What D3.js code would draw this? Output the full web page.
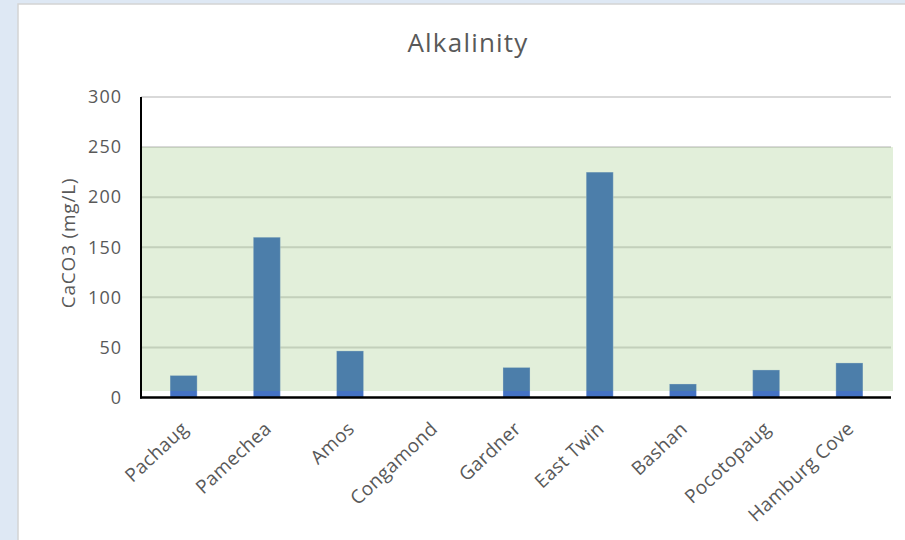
<!DOCTYPE html>
<html>
<head>
<meta charset="utf-8">
<script src="https://cdn.jsdelivr.net/npm/d3@7"></script>
<style>
  html, body { margin: 0; padding: 0; background: #dee8f4; }
  svg { display: block; }
</style>
</head>
<body>
<svg id="chart" width="905" height="540"></svg>
<script>
const categories = ["Pachaug", "Pamechea", "Amos", "Congamond", "Gardner", "East Twin", "Bashan", "Pocotopaug", "Hamburg Cove"];
const alkalinity = [22, 160, 46.5, 0, 30, 225, 13.5, 27.5, 34.5];
const yTicks = [0, 50, 100, 150, 200, 250, 300];
const bandRange = [6.5, 250];

const svg = d3.select("#chart");
const font = "'Open Sans', 'Noto Sans', sans-serif";

// panel
svg.append("rect").attr("x", 18).attr("y", 4).attr("width", 900).attr("height", 550)
  .attr("fill", "#ffffff").attr("stroke", "#d4d4d4").attr("stroke-width", 1.5);

const plotLeft = 141, plotRight = 891, plotTop = 97, plotBottom = 397.5;
const x = d3.scaleBand().domain(categories).range([142, 891]).paddingInner(0.675).paddingOuter(0.3375);
const y = d3.scaleLinear().domain([0, 300]).range([plotBottom, plotTop]);

// gridlines
svg.append("g").selectAll("line").data(yTicks.filter(d => d > 0)).join("line")
  .attr("x1", plotLeft).attr("x2", plotRight)
  .attr("y1", d => y(d)).attr("y2", d => y(d))
  .attr("stroke", "#d9d9d9").attr("stroke-width", 2);

// bars
svg.append("g").selectAll("rect").data(categories).join("rect")
  .attr("x", d => x(d))
  .attr("width", x.bandwidth())
  .attr("y", (d, i) => y(alkalinity[i]))
  .attr("height", (d, i) => plotBottom - y(alkalinity[i]))
  .attr("fill", "#4472c4")
  .attr("stroke", "rgba(255,255,255,0.3)").attr("stroke-width", 1);

// green acceptable band overlay
svg.append("rect")
  .attr("x", plotLeft).attr("width", 893 - plotLeft)
  .attr("y", y(bandRange[1])).attr("height", y(bandRange[0]) - y(bandRange[1]))
  .attr("fill", "rgba(112,173,71,0.2)");

// axes lines
svg.append("line").attr("x1", plotLeft).attr("x2", plotLeft).attr("y1", plotTop).attr("y2", plotBottom + 1)
  .attr("stroke", "#000").attr("stroke-width", 2);
svg.append("line").attr("x1", plotLeft - 1).attr("x2", plotRight).attr("y1", plotBottom).attr("y2", plotBottom)
  .attr("stroke", "#000").attr("stroke-width", 2.5);

// y tick labels
svg.append("g").selectAll("text").data(yTicks).join("text")
  .attr("x", 122).attr("y", d => y(d)).attr("dy", "0.35em")
  .attr("text-anchor", "end")
  .attr("font-family", font).attr("font-size", 18).attr("letter-spacing", 1)
  .attr("fill", "#595959")
  .text(d => d);

// x labels
svg.append("g").selectAll("text").data(categories).join("text")
  .attr("transform", d => `translate(${x(d) + x.bandwidth() / 2 + 1},${plotBottom + 28}) rotate(-43)`)
  .attr("text-anchor", "end")
  .attr("dy", "0.35em")
  .attr("font-family", font).attr("font-size", 19).attr("letter-spacing", 0.3)
  .attr("fill", "#595959")
  .text(d => d);

// y axis title
svg.append("text")
  .attr("transform", "translate(68,243) rotate(-90)")
  .attr("text-anchor", "middle").attr("dy", "0.35em")
  .attr("font-family", font).attr("font-size", 19).attr("letter-spacing", 0.8)
  .attr("fill", "#595959")
  .text("CaCO3 (mg/L)");

// title
svg.append("text")
  .attr("x", 468).attr("y", 52)
  .attr("text-anchor", "middle")
  .attr("font-family", font).attr("font-size", 26).attr("letter-spacing", 1.2)
  .attr("fill", "#595959")
  .text("Alkalinity");
</script>
</body>
</html>
